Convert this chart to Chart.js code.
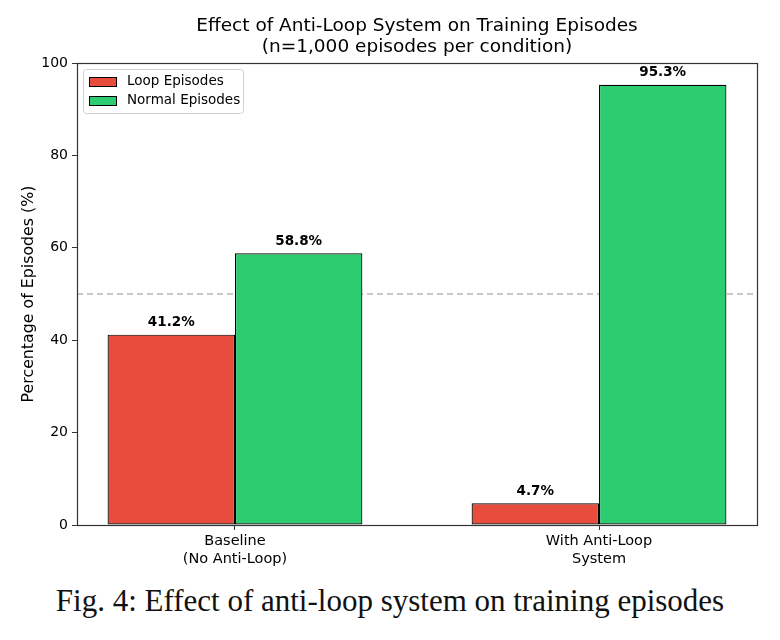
<!DOCTYPE html>
<html>
<head>
<meta charset="utf-8">
<script src="https://cdn.jsdelivr.net/npm/chart.js@4/dist/chart.umd.min.js"></script>
<style>
  body { margin: 0; background: #fff; }
  #wrap { position: relative; width: 780px; height: 640px; }
  #caption {
    position: absolute; left: 0; top: 583px; width: 780px; text-align: center;
    font-family: "Liberation Serif", "Times New Roman", serif; font-size: 31px; color: #111;
  }
</style>
</head>
<body>
<div id="wrap">
  <canvas id="chart" width="780" height="580"></canvas>
  <div id="caption">Fig. 4: Effect of anti-loop system on training episodes</div>
</div>
<script>
const categories = [['Baseline', '(No Anti-Loop)'], ['With Anti-Loop', 'System']];
const xTickPos = [0, 1];
const loopValues = [41.2, 4.7];
const normalValues = [58.8, 95.3];
const yTicks = [0, 20, 40, 60, 80, 100];
const refLine = 50;
const titleLines = ['Effect of Anti-Loop System on Training Episodes', '(n=1,000 episodes per condition)'];

const FONT = '"DejaVu Sans", sans-serif';
const RED = '#e74c3c';
const GREEN = '#2ecc71';

const extras = {
  id: 'extras',
  beforeDatasetsDraw(chart) {
    const { ctx, chartArea: a, scales } = chart;
    const y = scales.y.getPixelForValue(refLine);
    ctx.save();
    ctx.strokeStyle = 'rgba(150,150,150,0.7)';
    ctx.lineWidth = 1.5;
    ctx.setLineDash([6, 4]);
    ctx.beginPath();
    ctx.moveTo(a.left, y);
    ctx.lineTo(a.right, y);
    ctx.stroke();
    ctx.restore();
  },
  afterDatasetsDraw(chart) {
    const { ctx, chartArea: a } = chart;
    ctx.save();
    // frame
    ctx.strokeStyle = '#333';
    ctx.lineWidth = 1.2;
    ctx.strokeRect(a.left + 0.5, a.top + 0.5, a.right - a.left, a.bottom - a.top);

    // value labels
    ctx.fillStyle = '#000';
    ctx.font = 'bold 13.5px ' + FONT;
    ctx.textAlign = 'center';
    ctx.textBaseline = 'bottom';
    chart.data.datasets.forEach((ds, di) => {
      chart.getDatasetMeta(di).data.forEach((bar, i) => {
        ctx.fillText(ds.data[i].y.toFixed(1) + '%', bar.x, bar.y - 5);
      });
    });

    // title
    ctx.font = '18.5px ' + FONT;
    ctx.textBaseline = 'middle';
    const cx = (a.left + a.right) / 2;
    ctx.fillText(titleLines[0], cx, 26);
    ctx.fillText(titleLines[1], cx, 47);

    // y axis title
    ctx.save();
    ctx.translate(29, (a.top + a.bottom) / 2);
    ctx.rotate(-Math.PI / 2);
    ctx.font = '15.8px ' + FONT;
    ctx.fillText('Percentage of Episodes (%)', 0, 0);
    ctx.restore();

    // legend
    const lx = a.left + 6, ly = a.top + 6, lw = 160, lh = 44;
    ctx.fillStyle = 'rgba(255,255,255,0.85)';
    ctx.strokeStyle = '#d0d0d0';
    ctx.lineWidth = 1;
    ctx.beginPath();
    ctx.roundRect(lx + 0.5, ly + 0.5, lw, lh, 3);
    ctx.fill();
    ctx.stroke();
    ctx.font = '13.5px ' + FONT;
    ctx.textAlign = 'left';
    ctx.textBaseline = 'middle';
    chart.data.datasets.forEach((ds, i) => {
      const ry = ly + 12.5 + i * 19;
      ctx.fillStyle = ds.backgroundColor;
      ctx.fillRect(lx + 6, ry - 4.5, 27, 9);
      ctx.strokeStyle = '#000';
      ctx.strokeRect(lx + 6.5, ry - 4, 27, 9);
      ctx.fillStyle = '#000';
      ctx.fillText(ds.label, lx + 44, ry);
    });
    ctx.restore();
  }
};

new Chart(document.getElementById('chart'), {
  type: 'bar',
  data: {
    datasets: [
      {
        label: 'Loop Episodes',
        data: loopValues.map((v, i) => ({ x: xTickPos[i], y: v })),
        backgroundColor: RED,
        borderColor: '#000',
        borderWidth: 1.2,
        borderSkipped: false,
        categoryPercentage: 0.7,
        barPercentage: 1.0
      },
      {
        label: 'Normal Episodes',
        data: normalValues.map((v, i) => ({ x: xTickPos[i], y: v })),
        backgroundColor: GREEN,
        borderColor: '#000',
        borderWidth: 1.2,
        borderSkipped: false,
        categoryPercentage: 0.7,
        barPercentage: 1.0
      }
    ]
  },
  options: {
    responsive: false,
    animation: false,
    layout: { padding: { left: 0, right: 23, top: 63, bottom: 0 } },
    plugins: {
      legend: { display: false },
      title: { display: false },
      tooltip: { enabled: false }
    },
    scales: {
      x: {
        type: 'linear',
        min: -0.434,
        max: 1.434,
        offset: false,
        afterBuildTicks: s => { s.ticks = xTickPos.map(v => ({ value: v })); },
        afterFit: s => { s.height = 55; },
        border: { display: true, color: '#333' },
        grid: { offset: false, drawOnChartArea: false, drawTicks: true, tickLength: 5, color: '#333' },
        ticks: {
          padding: 3,
          color: '#000',
          font: { family: FONT, size: 14.5 },
          callback: (v) => categories[xTickPos.indexOf(v)]
        }
      },
      y: {
        min: 0,
        max: 100,
        afterBuildTicks: s => { s.ticks = yTicks.map(v => ({ value: v })); },
        afterFit: s => { s.width = 77; },
        border: { display: true, color: '#333' },
        grid: { drawOnChartArea: false, drawTicks: true, tickLength: 5, color: '#333' },
        ticks: {
          padding: 4,
          color: '#000',
          font: { family: FONT, size: 14 }
        }
      }
    }
  },
  plugins: [extras]
});
</script>
</body>
</html>
